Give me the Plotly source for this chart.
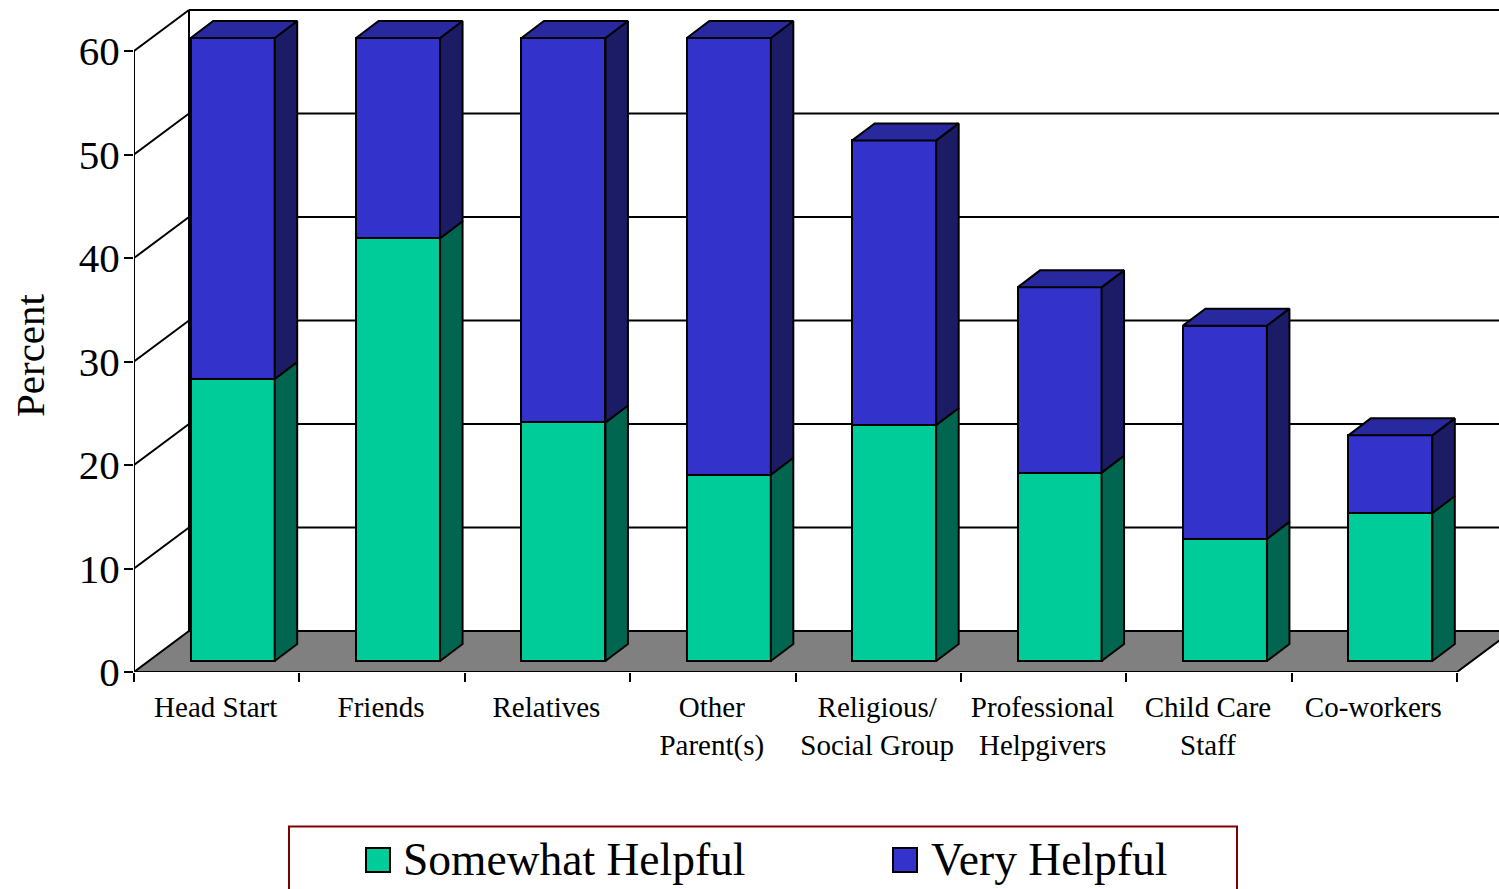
import plotly.graph_objects as go

# ---- data ----
categories = ["Head Start", "Friends", "Relatives", "Other<br>Parent(s)", "Religious/<br>Social Group",
              "Professional<br>Helpgivers", "Child Care<br>Staff", "Co-workers"]
somewhat_helpful = [27.25, 40.85, 23.05, 18.0, 22.8, 18.2, 11.8, 14.3]
very_helpful = [32.95, 19.35, 37.15, 42.2, 27.5, 17.9, 20.6, 7.5]
y_ticks = [0, 10, 20, 30, 40, 50, 60]
series_names = ["Somewhat Helpful", "Very Helpful"]

# ---- styling ----
GREEN, GREEN_SIDE = "#00CC99", "#006650"
BLUE, BLUE_SIDE, BLUE_TOP = "#3333CC", "#1C1C66", "#29299F"
FONT = "Liberation Serif"
PX_X, PX_Y = 165.375, 10.35           # pixels per axis unit
WALL_DX, WALL_DY = 55 / PX_X, 41 / PX_Y
BAR_DX, BAR_DY = 16 / PX_X, 11 / PX_Y
DEPTH_DX, DEPTH_DY = 22.5 / PX_X, 17 / PX_Y
BAR_W = 84 / PX_X
PLOT_W, PLOT_H = 1365, 667
XMAX, YMAX = PLOT_W / PX_X, PLOT_H / PX_Y
n = len(categories)
centers = [i + 0.5 for i in range(n)]
bar_x = [c + BAR_DX for c in centers]
tops_green = somewhat_helpful
tops_blue = [a + b for a, b in zip(somewhat_helpful, very_helpful)]


def px(x):
    return (x - 134) / PLOT_W


def py(y):
    return (672 - y) / PLOT_H


def faces(lo, hi):
    xs, ys = [], []
    for x, a, b in zip(bar_x, lo, hi):
        r = x + BAR_W / 2
        xs += [r, r + DEPTH_DX, r + DEPTH_DX, r, r, None]
        ys += [a + BAR_DY, a + BAR_DY + DEPTH_DY, b + BAR_DY + DEPTH_DY, b + BAR_DY, a + BAR_DY, None]
    return xs, ys


def tops(h):
    xs, ys = [], []
    for x, b in zip(bar_x, h):
        l, r = x - BAR_W / 2, x + BAR_W / 2
        t = b + BAR_DY
        xs += [l, r, r + DEPTH_DX, l + DEPTH_DX, l, None]
        ys += [t, t, t + DEPTH_DY, t + DEPTH_DY, t, None]
    return xs, ys


LINE = dict(color="black", width=2)
fig = go.Figure()
fig.add_bar(x=bar_x, y=somewhat_helpful, base=[BAR_DY] * n, width=BAR_W, name=series_names[0],
            marker=dict(color=GREEN, line=LINE), hoverinfo="y", showlegend=False)
fig.add_bar(x=bar_x, y=very_helpful, base=[g + BAR_DY for g in somewhat_helpful], width=BAR_W, name=series_names[1],
            marker=dict(color=BLUE, line=LINE), hoverinfo="y", showlegend=False)

for (xs, ys), col in [(faces([0] * n, tops_green), GREEN_SIDE),
                      (faces(tops_green, tops_blue), BLUE_SIDE),
                      (tops(tops_blue), BLUE_TOP)]:
    fig.add_scatter(x=xs, y=ys, mode="lines", fill="toself", fillcolor=col, line=LINE,
                    showlegend=False, hoverinfo="skip")

shapes = []
# floor
floor_path = f"M 0 0 L {WALL_DX} {WALL_DY} L {n + WALL_DX} {WALL_DY} L {n} 0 Z"
shapes.append(dict(type="path", path=floor_path, fillcolor="#808080", line=LINE, layer="below"))
# back wall and side wall grid
for v in y_ticks[1:]:
    shapes.append(dict(type="line", x0=0, y0=v, x1=WALL_DX, y1=v + WALL_DY, line=LINE, layer="below"))
    shapes.append(dict(type="line", x0=WALL_DX, y0=v + WALL_DY, x1=n + WALL_DX, y1=v + WALL_DY, line=LINE, layer="below"))
shapes.append(dict(type="line", x0=WALL_DX, y0=WALL_DY, x1=WALL_DX, y1=60 + WALL_DY, line=LINE, layer="below"))
shapes.append(dict(type="line", x0=0, y0=0, x1=0, y1=60, line=LINE, layer="below"))
shapes.append(dict(type="line", x0=0, y0=0, x1=n, y1=0, line=LINE, layer="below"))

# legend box and swatches
shapes.append(dict(type="rect", xref="paper", yref="paper", x0=px(289), x1=px(1237), y0=py(905), y1=py(826.5),
                   line=dict(color="#7F0000", width=2), fillcolor="white"))
annotations = [dict(text="Percent", textangle=-90, xref="paper", yref="paper", x=px(30), y=py(355), showarrow=False,
                    font=dict(size=41, family=FONT), xanchor="center", yanchor="middle")]
for name, col, sw, tx in zip(series_names, [GREEN, BLUE], [366, 893], [403, 931]):
    shapes.append(dict(type="rect", xref="paper", yref="paper", x0=px(sw), x1=px(sw + 24), y0=py(872), y1=py(848),
                       line=LINE, fillcolor=col))
    annotations.append(dict(text=name, xref="paper", yref="paper", x=px(tx), y=py(859), showarrow=False,
                            font=dict(size=45.5, family=FONT), xanchor="left", yanchor="middle", xshift=-2))

fig.update_layout(
    width=1499, height=889, autosize=False, barmode="overlay", bargap=0, showlegend=False,
    paper_bgcolor="white", plot_bgcolor="white",
    margin=dict(l=134, r=0, t=5, b=217, pad=0, autoexpand=False),
    shapes=shapes, annotations=annotations,
    font=dict(family=FONT, color="black"),
    xaxis=dict(range=[0, XMAX], tickmode="array", tickvals=centers, ticktext=categories, ticks="",
               tickfont=dict(size=29, family=FONT), showgrid=False, zeroline=False, showline=False,
               ticklabelstandoff=15, ticklabelshift=-1,
               minor=dict(tickmode="array", tickvals=list(range(n + 1)), ticks="outside", ticklen=9,
                          tickwidth=2, tickcolor="black", showgrid=False)),
    yaxis=dict(range=[0, YMAX], tickmode="array", tickvals=y_ticks, ticks="outside", ticklen=9, tickwidth=2,
               tickcolor="black", tickfont=dict(size=41, family=FONT), showgrid=False, zeroline=False, showline=False,
               ticklabelstandoff=-4),
)
fig.write_html("out.html", config={"displayModeBar": False},
               post_script="document.body.style.margin='0';document.body.style.overflow='hidden';")
